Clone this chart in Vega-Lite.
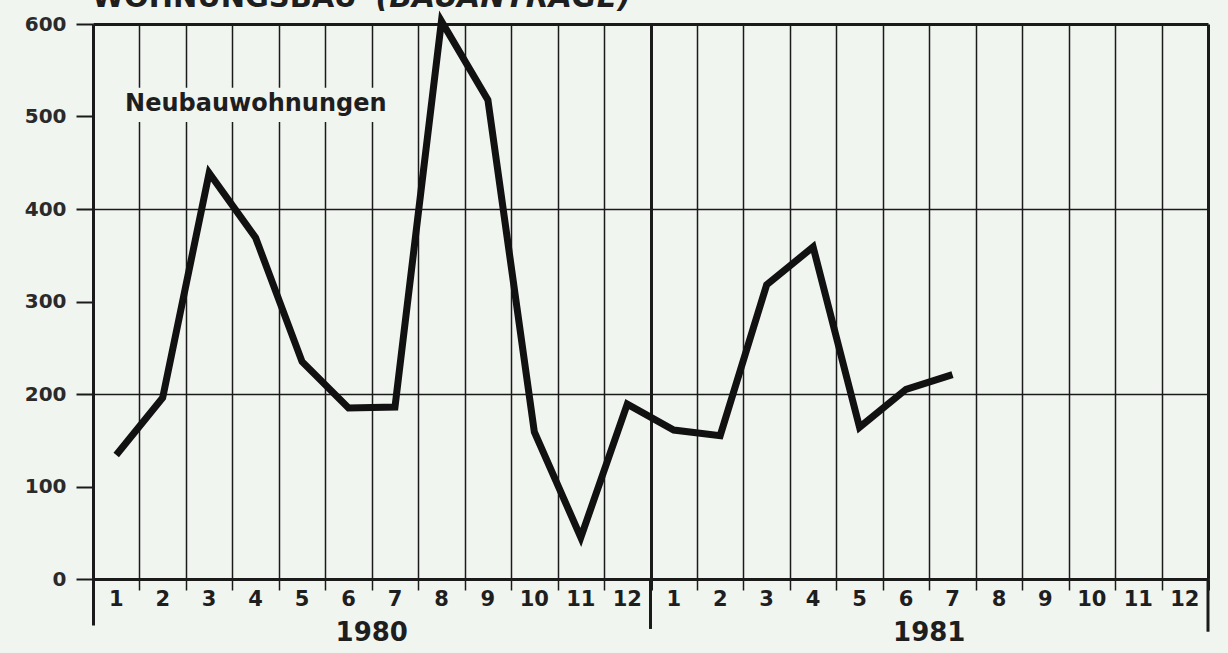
{
  "$schema": "https://vega.github.io/schema/vega-lite/v6.json",
  "autosize": {"type": "none"},
  "width": 1115,
  "height": 555,
  "padding": {"left": 93, "top": 24, "right": 20, "bottom": 74},
  "background": "#f1f5f0",
  "config": {
    "view": {"stroke": null},
    "font": "DejaVu Sans"
  },
  "datasets": {
    "series": [
      {"jahr": 1980, "monat": 1, "pos": 0.5, "wert": 134},
      {"jahr": 1980, "monat": 2, "pos": 1.5, "wert": 196},
      {"jahr": 1980, "monat": 3, "pos": 2.5, "wert": 439},
      {"jahr": 1980, "monat": 4, "pos": 3.5, "wert": 369},
      {"jahr": 1980, "monat": 5, "pos": 4.5, "wert": 235},
      {"jahr": 1980, "monat": 6, "pos": 5.5, "wert": 185},
      {"jahr": 1980, "monat": 7, "pos": 6.5, "wert": 186},
      {"jahr": 1980, "monat": 8, "pos": 7.5, "wert": 603},
      {"jahr": 1980, "monat": 9, "pos": 8.5, "wert": 518},
      {"jahr": 1980, "monat": 10, "pos": 9.5, "wert": 159},
      {"jahr": 1980, "monat": 11, "pos": 10.5, "wert": 45},
      {"jahr": 1980, "monat": 12, "pos": 11.5, "wert": 189},
      {"jahr": 1981, "monat": 1, "pos": 12.5, "wert": 161},
      {"jahr": 1981, "monat": 2, "pos": 13.5, "wert": 155},
      {"jahr": 1981, "monat": 3, "pos": 14.5, "wert": 318},
      {"jahr": 1981, "monat": 4, "pos": 15.5, "wert": 359},
      {"jahr": 1981, "monat": 5, "pos": 16.5, "wert": 164},
      {"jahr": 1981, "monat": 6, "pos": 17.5, "wert": 205},
      {"jahr": 1981, "monat": 7, "pos": 18.5, "wert": 221}
    ],
    "monate": [
      {"pos": 0.5, "y": -23, "label": "1"},
      {"pos": 1.5, "y": -23, "label": "2"},
      {"pos": 2.5, "y": -23, "label": "3"},
      {"pos": 3.5, "y": -23, "label": "4"},
      {"pos": 4.5, "y": -23, "label": "5"},
      {"pos": 5.5, "y": -23, "label": "6"},
      {"pos": 6.5, "y": -23, "label": "7"},
      {"pos": 7.5, "y": -23, "label": "8"},
      {"pos": 8.5, "y": -23, "label": "9"},
      {"pos": 9.5, "y": -23, "label": "10"},
      {"pos": 10.5, "y": -23, "label": "11"},
      {"pos": 11.5, "y": -23, "label": "12"},
      {"pos": 12.5, "y": -23, "label": "1"},
      {"pos": 13.5, "y": -23, "label": "2"},
      {"pos": 14.5, "y": -23, "label": "3"},
      {"pos": 15.5, "y": -23, "label": "4"},
      {"pos": 16.5, "y": -23, "label": "5"},
      {"pos": 17.5, "y": -23, "label": "6"},
      {"pos": 18.5, "y": -23, "label": "7"},
      {"pos": 19.5, "y": -23, "label": "8"},
      {"pos": 20.5, "y": -23, "label": "9"},
      {"pos": 21.5, "y": -23, "label": "10"},
      {"pos": 22.5, "y": -23, "label": "11"},
      {"pos": 23.5, "y": -23, "label": "12"}
    ],
    "jahre": [
      {"pos": 6, "y": -58, "label": "1980"},
      {"pos": 18, "y": -58, "label": "1981"}
    ]
  },
  "layer": [
    {
      "data": {"values": [{"x1": 0.6, "x2": 6.6, "y1": 494, "y2": 531}]},
      "mark": {"type": "rect", "fill": "#f1f5f0"},
      "encoding": {
        "x": {
          "field": "x1", "type": "quantitative",
          "scale": {"domain": [0, 24], "nice": false, "zero": false},
          "axis": {
            "title": null,
            "values": [0,1,2,3,4,5,6,7,8,9,10,11,12,13,14,15,16,17,18,19,20,21,22,23,24],
            "labels": false,
            "domain": true,
            "domainColor": "#1a1a1a",
            "domainWidth": 3,
            "grid": true,
            "gridColor": "#1a1a1a",
            "gridWidth": {"condition": {"test": "datum.value === 12 || datum.value === 24 || datum.value === 0", "value": 3}, "value": 1.5},
            "ticks": true,
            "tickColor": "#1a1a1a",
            "tickSize": {"condition": {"test": "datum.value === 0", "value": 46}, "value": 11},
            "tickWidth": {"condition": {"test": "datum.value === 12 || datum.value === 24 || datum.value === 0", "value": 3}, "value": 1.5}
          }
        },
        "x2": {"field": "x2"},
        "y": {
          "field": "y1", "type": "quantitative",
          "scale": {"domain": [0, 600], "nice": false},
          "axis": {
            "title": null,
            "values": [0, 100, 200, 300, 400, 500, 600],
            "labelFont": "DejaVu Sans",
            "labelFontWeight": "bold",
            "labelFontSize": 20,
            "labelColor": "#2a2a2a",
            "labelPadding": 10,
            "domain": true,
            "domainColor": "#1a1a1a",
            "domainWidth": 3,
            "grid": true,
            "gridColor": "#1a1a1a",
            "gridOpacity": {"condition": {"test": "datum.value % 200 === 0", "value": 1}, "value": 0},
            "gridWidth": {"condition": {"test": "datum.value === 600 || datum.value === 0", "value": 3}, "value": 1.5},
            "tickColor": "#1a1a1a",
            "tickSize": 17,
            "tickWidth": 2
          }
        },
        "y2": {"field": "y2"}
      }
    },
    {
      "data": {"values": [{"pos": 12, "a": 0, "b": -54}, {"pos": 24, "a": 0, "b": -57}]},
      "mark": {"type": "rule", "color": "#1a1a1a", "strokeWidth": 3, "clip": false},
      "encoding": {
        "x": {"field": "pos", "type": "quantitative"},
        "y": {"field": "a", "type": "quantitative"},
        "y2": {"field": "b"}
      }
    },
    {
      "data": {"name": "series"},
      "mark": {"type": "line", "color": "#111111", "strokeWidth": 7, "strokeJoin": "miter", "strokeCap": "butt", "clip": false},
      "encoding": {
        "x": {"field": "pos", "type": "quantitative"},
        "y": {"field": "wert", "type": "quantitative"}
      }
    },
    {
      "data": {"values": [{"pos": 0.69, "y": 513, "label": "Neubauwohnungen"}]},
      "mark": {"type": "text", "align": "left", "baseline": "middle", "font": "DejaVu Sans", "fontWeight": "bold", "fontSize": 24, "color": "#1e1e1e"},
      "encoding": {
        "x": {"field": "pos", "type": "quantitative"},
        "y": {"field": "y", "type": "quantitative"},
        "text": {"field": "label"}
      }
    },
    {
      "data": {"name": "monate"},
      "mark": {"type": "text", "align": "center", "baseline": "middle", "font": "DejaVu Sans", "fontWeight": "bold", "fontSize": 21, "color": "#1e1e1e", "clip": false},
      "encoding": {
        "x": {"field": "pos", "type": "quantitative"},
        "y": {"field": "y", "type": "quantitative"},
        "text": {"field": "label"}
      }
    },
    {
      "data": {"name": "jahre"},
      "mark": {"type": "text", "align": "center", "baseline": "middle", "font": "DejaVu Sans", "fontWeight": "bold", "fontSize": 26, "color": "#1e1e1e", "clip": false},
      "encoding": {
        "x": {"field": "pos", "type": "quantitative"},
        "y": {"field": "y", "type": "quantitative"},
        "text": {"field": "label"}
      }
    },
    {
      "data": {"values": [{"pos": -0.02, "y": 618, "label": "WOHNUNGSBAU"}]},
      "mark": {"type": "text", "align": "left", "baseline": "alphabetic", "font": "DejaVu Sans", "fontWeight": "bold", "fontSize": 29, "color": "#1e1e1e", "clip": false},
      "encoding": {
        "x": {"field": "pos", "type": "quantitative"},
        "y": {"field": "y", "type": "quantitative"},
        "text": {"field": "label"}
      }
    },
    {
      "data": {"values": [{"pos": 6.08, "y": 618, "label": "(BAUANTRÄGE)"}]},
      "mark": {"type": "text", "align": "left", "baseline": "alphabetic", "font": "DejaVu Sans", "fontStyle": "italic", "fontWeight": "bold", "fontSize": 30, "color": "#1e1e1e", "clip": false},
      "encoding": {
        "x": {"field": "pos", "type": "quantitative"},
        "y": {"field": "y", "type": "quantitative"},
        "text": {"field": "label"}
      }
    }
  ]
}
